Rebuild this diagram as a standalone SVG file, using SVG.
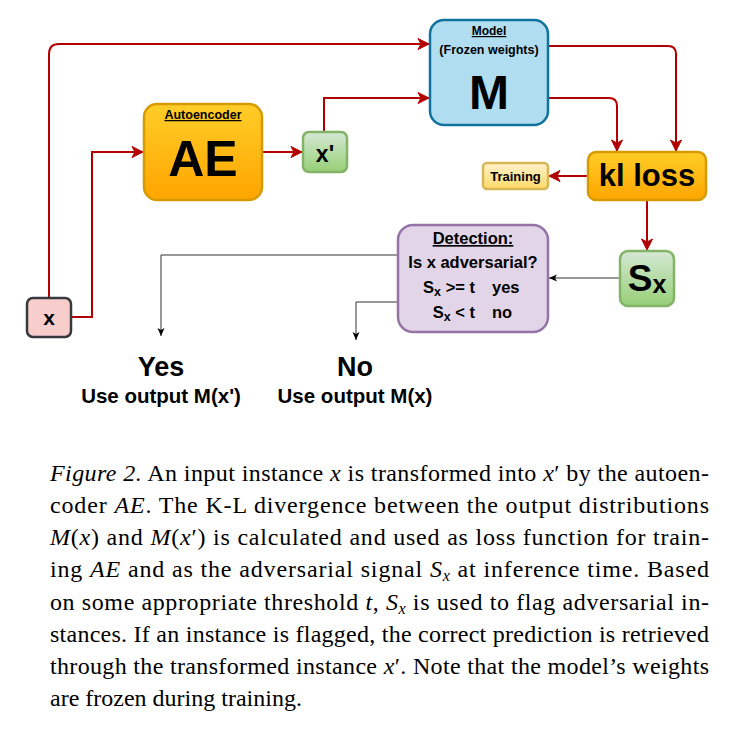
<svg xmlns="http://www.w3.org/2000/svg" width="733" height="743" viewBox="0 0 733 743">
<defs>
<linearGradient id="gOrange" x1="0" y1="0" x2="0" y2="1"><stop offset="0" stop-color="#ffcd28"/><stop offset="1" stop-color="#ffa500"/></linearGradient>
<linearGradient id="gGreen" x1="0" y1="0" x2="0" y2="1"><stop offset="0" stop-color="#d5e8d4"/><stop offset="1" stop-color="#97d077"/></linearGradient>
<linearGradient id="gYellow" x1="0" y1="0" x2="0" y2="1"><stop offset="0" stop-color="#fff2cc"/><stop offset="1" stop-color="#ffd966"/></linearGradient>
<marker id="aRed" markerUnits="userSpaceOnUse" markerWidth="14" markerHeight="14" viewBox="0 0 14 14" refX="12" refY="7" orient="auto">
<path d="M1,1.5 L12,7 L1,12.5 L4,7 Z" fill="#b20000" stroke="#b20000" stroke-width="1"/>
</marker>
<marker id="aBlk" markerUnits="userSpaceOnUse" markerWidth="10" markerHeight="10" viewBox="0 0 10 10" refX="9" refY="5" orient="auto">
<path d="M1,1.5 L9,5 L1,8.5 L3,5 Z" fill="#000"/>
</marker>
</defs>
<style>
.lbl{font-family:"Liberation Sans",Arial,sans-serif;font-weight:bold;fill:#000;text-anchor:middle}
.red{fill:none;stroke:#b20000;stroke-width:2;marker-end:url(#aRed)}
.blk{fill:none;stroke:#333;stroke-width:1;marker-end:url(#aBlk)}
.cap{font-family:"Liberation Serif","Times New Roman",serif;font-size:24px;fill:#000}
.it{font-style:italic}
</style>

<g id="connectors">
<path class="red" d="M49,298 V54 Q49,44 59,44 H429"/>
<path class="red" d="M71,317 H92 V152 H143"/>
<path class="red" d="M262,152 H302"/>
<path class="red" d="M324,132 V98 H429"/>
<path class="red" d="M548,46 H668 Q676,46 676,54 V151"/>
<path class="red" d="M548,98 H609 Q617,98 617,106 V151"/>
<path class="red" d="M588,176 H549"/>
<path class="red" d="M647,200 V250"/>
<path class="blk" d="M620,278 H549"/>
<path class="blk" d="M398,255 H161 V336"/>
<path class="blk" d="M398,302 H356 V340"/>
</g>

<g id="node-x">
<rect x="27" y="298" width="44" height="39" rx="6" fill="#f8cecc" stroke="#36393d" stroke-width="2.5"/>
<text class="lbl" x="49" y="325" font-size="21">x</text>
</g>

<g id="node-ae">
<rect x="144" y="104" width="118" height="96" rx="13" fill="url(#gOrange)" stroke="#d79b00" stroke-width="2.5"/>
<text class="lbl" x="203" y="119" font-size="12.5" text-decoration="underline">Autoencoder</text>
<text class="lbl" x="203" y="176" font-size="50">AE</text>
</g>

<g id="node-xprime">
<rect x="303" y="132" width="44" height="40" rx="6" fill="url(#gGreen)" stroke="#82b366" stroke-width="2.5"/>
<text class="lbl" x="325" y="162" font-size="23">x'</text>
</g>

<g id="node-model">
<rect x="430" y="20" width="118" height="105" rx="14" fill="#b1ddf0" stroke="#10739e" stroke-width="2.5"/>
<text class="lbl" x="489" y="35" font-size="12" text-decoration="underline">Model</text>
<text class="lbl" x="489" y="54" font-size="12.5">(Frozen weights)</text>
<text class="lbl" x="489" y="109" font-size="48">M</text>
</g>

<g id="node-kl">
<rect x="588" y="152" width="118" height="48" rx="8" fill="url(#gOrange)" stroke="#d79b00" stroke-width="2.5"/>
<text class="lbl" x="647" y="186" font-size="31">kl loss</text>
</g>

<g id="node-training">
<rect x="483" y="163" width="65" height="26" rx="4" fill="url(#gYellow)" stroke="#d6b656" stroke-width="2.5"/>
<text class="lbl" x="515.5" y="181" font-size="13">Training</text>
</g>

<g id="node-sx">
<rect x="620" y="251" width="54" height="55" rx="8" fill="url(#gGreen)" stroke="#82b366" stroke-width="2.5"/>
<text class="lbl" x="647" y="291"><tspan font-size="37">S</tspan><tspan font-size="25" dy="2">x</tspan></text>
</g>

<g id="node-detection">
<rect x="398" y="225" width="150" height="107" rx="15" fill="#e1d5e7" stroke="#9673a6" stroke-width="2.5"/>
<text class="lbl" x="473" y="244" font-size="16.5" text-decoration="underline">Detection:</text>
<text class="lbl" x="473" y="268" font-size="16.5">Is x adversarial?</text>
<text class="lbl" x="475" y="293" font-size="16.5" style="text-anchor:end">S<tspan font-size="12.5" dy="3">x</tspan><tspan dy="-3"> &gt;= t</tspan></text>
<text class="lbl" x="492" y="293" font-size="16.5" style="text-anchor:start">yes</text>
<text class="lbl" x="475" y="318" font-size="16.5" style="text-anchor:end">S<tspan font-size="12.5" dy="3">x</tspan><tspan dy="-3"> &lt; t</tspan></text>
<text class="lbl" x="492" y="318" font-size="16.5" style="text-anchor:start">no</text>
</g>

<g id="node-yes">
<text class="lbl" x="161" y="376" font-size="27">Yes</text>
<text class="lbl" x="161" y="403" font-size="20.5">Use output M(x')</text>
</g>

<g id="node-no">
<text class="lbl" x="355" y="376" font-size="27">No</text>
<text class="lbl" x="355" y="403" font-size="20.5">Use output M(x)</text>
</g>

<g id="caption">
<text class="cap" x="50" y="481" textLength="659" lengthAdjust="spacing"><tspan class="it">Figure 2.</tspan> An input instance <tspan class="it">x</tspan> is transformed into <tspan class="it">x</tspan>′ by the autoen-</text>
<text class="cap" x="50" y="513" textLength="659" lengthAdjust="spacing">coder <tspan class="it">AE</tspan>. The K-L divergence between the output distributions</text>
<text class="cap" x="50" y="545" textLength="659" lengthAdjust="spacing"><tspan class="it">M</tspan>(<tspan class="it">x</tspan>) and <tspan class="it">M</tspan>(<tspan class="it">x</tspan>′) is calculated and used as loss function for train-</text>
<text class="cap" x="50" y="577" textLength="659" lengthAdjust="spacing">ing <tspan class="it">AE</tspan> and as the adversarial signal <tspan class="it">S</tspan><tspan class="it" font-size="16" dy="4">x</tspan><tspan dy="-4"> at inference time. Based</tspan></text>
<text class="cap" x="50" y="610" textLength="659" lengthAdjust="spacing">on some appropriate threshold <tspan class="it">t</tspan>, <tspan class="it">S</tspan><tspan class="it" font-size="16" dy="4">x</tspan><tspan dy="-4"> is used to flag adversarial in-</tspan></text>
<text class="cap" x="50" y="642" textLength="659" lengthAdjust="spacing">stances. If an instance is flagged, the correct prediction is retrieved</text>
<text class="cap" x="50" y="674" textLength="659" lengthAdjust="spacing">through the transformed instance <tspan class="it">x</tspan>′. Note that the model’s weights</text>
<text class="cap" x="50" y="706">are frozen during training.</text>
</g>
</svg>
